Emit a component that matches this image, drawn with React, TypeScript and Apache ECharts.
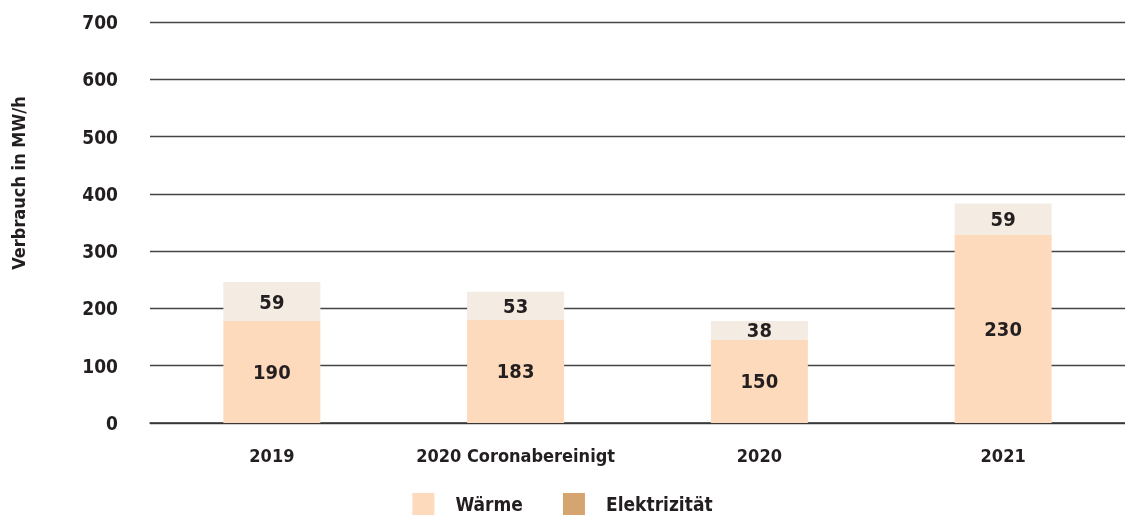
import React, { useEffect, useRef } from "react";
import * as echarts from "echarts";

const categories = ["2019", "2020 Coronabereinigt", "2020", "2021"];
// bar heights as drawn in the picture
const waermeValues = [178, 180, 145, 328];
const elektrizitaetValues = [68, 49, 33, 55];
// printed labels
const waermeLabels = ["190", "183", "150", "230"];
const elektrizitaetLabels = ["59", "53", "38", "59"];
const yTicks = { min: 0, max: 700, interval: 100 };

const FONT = "'Liberation Sans Narrow', 'DejaVu Sans Condensed', 'Liberation Sans', sans-serif";
const TEXT = "#231f20";

export default function App() {
  const ref = useRef<HTMLDivElement>(null);
  useEffect(() => {
    if (!ref.current) return;
    const chart = echarts.init(ref.current, null, { renderer: "svg" });
    const labelStyle = {
      show: true,
      position: "inside",
      color: TEXT,
      fontFamily: FONT,
      fontWeight: "bold",
      fontSize: 20,
    };
    chart.setOption({
      animation: false,
      grid: { left: 150, top: 22, width: 980, bottom: 97, containLabel: false },
      legend: {
        bottom: 0,
        left: "center",
        itemWidth: 22,
        itemHeight: 22,
        itemGap: 40,
        icon: "rect",
        data: ["Wärme", "Elektrizität"],
        textStyle: {
          color: TEXT,
          fontFamily: FONT,
          fontWeight: "bold",
          fontSize: 19,
          padding: [0, 0, 0, 16],
        },
      },
      graphic: [
        {
          type: "text",
          x: 18,
          y: 183,
          rotation: Math.PI / 2,
          style: {
            text: "Verbrauch in MW/h",
            fontFamily: FONT,
            fontWeight: "bold",
            fontSize: 18,
            fill: TEXT,
            textAlign: "center",
            textVerticalAlign: "middle",
          },
        },
      ],
      xAxis: {
        type: "category",
        data: categories,
        axisLine: { show: true, lineStyle: { color: "#333", width: 1.5 } },
        axisTick: { show: false },
        axisLabel: {
          interval: 0,
          color: TEXT,
          fontFamily: FONT,
          fontWeight: "bold",
          fontSize: 18,
          margin: 23,
        },
      },
      yAxis: {
        type: "value",
        min: yTicks.min,
        max: yTicks.max,
        interval: yTicks.interval,
        axisLine: { show: false },
        axisTick: { show: false },
        splitLine: { lineStyle: { color: "#444", width: 1.3 } },
        axisLabel: {
          color: TEXT,
          fontFamily: FONT,
          fontWeight: "bold",
          fontSize: 19,
          margin: 32,
        },
      },
      series: [
        {
          name: "Wärme",
          type: "bar",
          stack: "total",
          barWidth: 97,
          itemStyle: { color: "#fddabb" },
          label: {
            ...labelStyle,
            formatter: (p: any) => waermeLabels[p.dataIndex],
          },
          data: waermeValues,
        },
        {
          name: "Elektrizität",
          type: "bar",
          stack: "total",
          barWidth: 97,
          itemStyle: { color: "#d4a570" },
          label: {
            ...labelStyle,
            formatter: (p: any) => elektrizitaetLabels[p.dataIndex],
          },
          data: elektrizitaetValues.map((v) => ({
            value: v,
            itemStyle: { color: "#f4ebe2" },
          })),
        },
      ],
    });
    return () => chart.dispose();
  }, []);
  return (
    <div
      ref={ref}
      style={{ position: "fixed", left: 0, top: 0, width: 1125, height: 520 }}
    />
  );
}
